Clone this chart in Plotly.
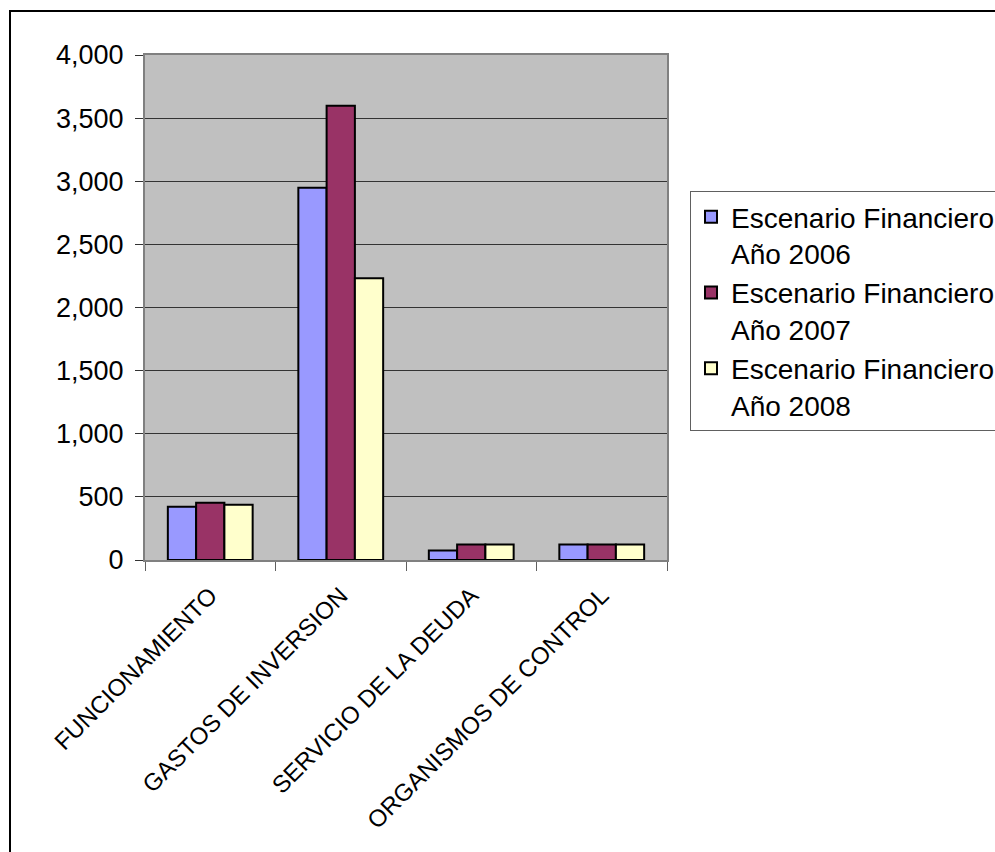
import plotly.graph_objects as go

categories = ["FUNCIONAMIENTO", "GASTOS DE INVERSION", "SERVICIO DE LA DEUDA", "ORGANISMOS DE CONTROL"]
series_names = ["Escenario Financiero<br>Año 2006", "Escenario Financiero<br>Año 2007", "Escenario Financiero<br>Año 2008"]
values_2006 = [422, 2948, 75, 123]
values_2007 = [453, 3598, 123, 123]
values_2008 = [438, 2232, 123, 123]
colors = ["#9999FF", "#993366", "#FFFFCC"]
y_ticks = [0, 500, 1000, 1500, 2000, 2500, 3000, 3500, 4000]

FONT = "Liberation Sans, Arial, sans-serif"
W, H = 995, 852
L, R, T, B = 145, 328, 55, 292
pw, ph = W - L - R, H - T - B

fig = go.Figure()
for name, vals, c in zip(series_names, [values_2006, values_2007, values_2008], colors):
    fig.add_trace(go.Bar(x=categories, y=vals, name=name,
                         marker=dict(color=c, line=dict(color="black", width=2))))

def px2x(p):
    return (p - L) / pw

def py2y(p):
    return (H - B - p) / ph

fig.update_layout(
    width=W, height=H,
    margin=dict(l=L, r=R, t=T, b=B, autoexpand=False),
    paper_bgcolor="white",
    plot_bgcolor="#C0C0C0",
    barmode="group", bargap=0.35, bargroupgap=0,
    font=dict(family=FONT, size=27, color="black"),
    showlegend=True,
    legend=dict(x=px2x(690), y=py2y(191), xanchor="left", yanchor="top",
                bgcolor="white", bordercolor="#606060", borderwidth=1,
                font=dict(family=FONT, size=28, color="black"),
                valign="top", itemsizing="constant", tracegroupgap=0),
    xaxis=dict(showgrid=False, showline=True, linecolor="#808080", linewidth=2, mirror=True,
               ticks="outside", tickson="boundaries", ticklen=9, tickcolor="#606060",
               tickangle=-45, tickfont=dict(size=24, family=FONT), ticklabelstandoff=10),
    yaxis=dict(range=[0, 4000], tickvals=y_ticks, tickformat=",d",
               showgrid=True, gridcolor="#333333", gridwidth=1,
               showline=True, linecolor="#808080", linewidth=2, mirror=True,
               ticks="outside", ticklen=8, tickcolor="#333333",
               tickfont=dict(size=27, family=FONT), zeroline=False, ticklabelstandoff=6),
    shapes=[dict(type="rect", xref="paper", yref="paper",
                 x0=px2x(10), x1=px2x(1010), y0=py2y(11), y1=py2y(870),
                 line=dict(color="black", width=2), fillcolor="rgba(0,0,0,0)", layer="above")],
)

fig.write_html("out.html")
